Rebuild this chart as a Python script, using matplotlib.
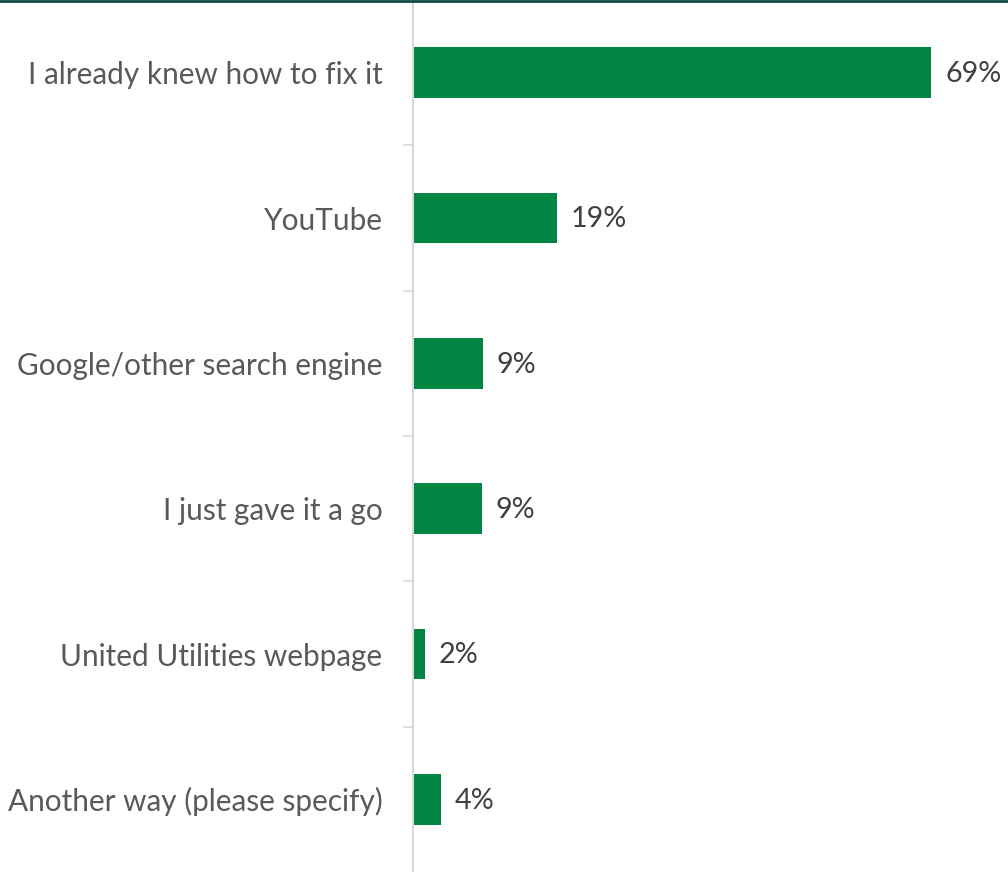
import matplotlib.pyplot as plt
from matplotlib.lines import Line2D
import numpy as np

categories = ['I already knew how to fix it', 'YouTube', 'Google/other search engine',
              'I just gave it a go', 'United Utilities webpage', 'Another way (please specify)']
values = [69.1, 19.2, 9.3, 9.2, 1.6, 3.7]

plt.rcParams['font.family'] = ['Lato', 'DejaVu Sans']

fig = plt.figure(figsize=(10.08, 8.72), dpi=100)
ax = fig.add_axes([413 / 1008, 0.0, 1 - 413 / 1008, 1.0])

y = np.arange(len(categories))
ax.barh(y, values, height=0.35, color='#008542')
for yi, v in zip(y, values):
    ax.annotate(f'{v:.0f}%', (v, yi), xytext=(10, -1), textcoords='offset points',
                va='center', ha='left', fontsize=20.7, color='#404040')

ax.set_ylim(len(categories) - 0.5, -0.5)
ax.set_xlim(0, 79.3)
ax.set_yticks(y)
ax.set_yticklabels(categories, fontsize=21.4, color='#595959')
for lbl in ax.get_yticklabels():
    lbl.set_y(lbl.get_position()[1])
ax.tick_params(axis='y', which='major', length=0, pad=22)
ax.set_yticks(np.arange(0.5, len(categories) - 1, 1.0), minor=True)
ax.tick_params(axis='y', which='minor', length=7.5, width=1.2, color='#D9D9D9')
ax.set_xticks([])
for s in ['top', 'right', 'bottom']:
    ax.spines[s].set_visible(False)
ax.spines['left'].set_color('#D9D9D9')
ax.spines['left'].set_linewidth(1.5)

fig.add_artist(Line2D([0, 1], [1 - 1.2 / 872, 1 - 1.2 / 872], transform=fig.transFigure,
                      color='#0B4D40', linewidth=2))

fig.savefig('out.png', dpi=100)
